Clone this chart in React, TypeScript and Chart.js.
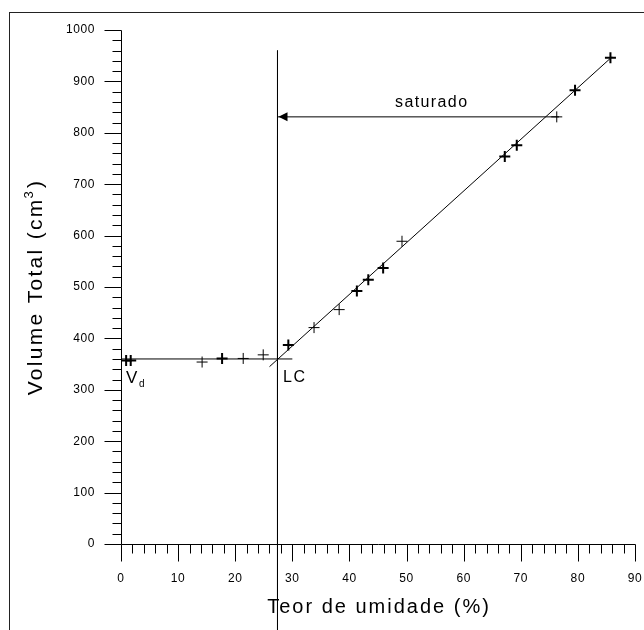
import { useEffect, useRef } from "react";
import { Chart, registerables } from "chart.js";

Chart.register(...registerables);

// ---- data ----
const moistureThin = [14.2, 21.4, 24.9, 33.8, 38.2, 49.2, 76.3];
const volumeThin = [354, 361, 368, 421, 456, 589, 831];
const moistureBold = [0.9, 1.7, 17.7, 29.3, 41.3, 43.3, 45.9, 67.2, 69.3, 79.5, 85.7];
const volumeBold = [357, 357, 361, 387, 492, 514, 537, 754, 776, 883, 946];

const vdX = [0, 30];
const vdY = [360, 360];
const lcX = [27.4, 27.4];
const lcY = [960, -170];
const regX = [26, 86];
const regY = [345, 948];
const arrowX = [27.4, 76.7];
const arrowY = [831, 831];

const xTicks = [0, 10, 20, 30, 40, 50, 60, 70, 80, 90];
const yTicks = [0, 100, 200, 300, 400, 500, 600, 700, 800, 900, 1000];

const FONT = '"Liberation Sans", Arial, sans-serif';

const pts = (xs: number[], ys: number[]) => xs.map((x, i) => ({ x, y: ys[i] }));

const lineDs = (xs: number[], ys: number[]) => ({
  data: pts(xs, ys),
  showLine: true,
  pointRadius: 0,
  borderColor: "#000",
  borderWidth: 1,
  clip: false as any,
});

const decor = {
  id: "decor",
  beforeDatasetsDraw(chart: any) {
    const { ctx } = chart;
    const xs = chart.scales.x;
    const ys = chart.scales.y;
    const px = (v: number) => Math.round(xs.getPixelForValue(v)) + 0.5;
    const py = (v: number) => Math.round(ys.getPixelForValue(v)) + 0.5;
    ctx.save();
    // frame
    ctx.strokeStyle = "#222";
    ctx.lineWidth = 1;
    ctx.strokeRect(9.5, 12.5, 700, 700);
    ctx.strokeStyle = "#000";
    // x axis
    const y0 = py(0);
    ctx.beginPath();
    ctx.moveTo(px(0), y0);
    ctx.lineTo(px(90), y0);
    for (let v = 0; v <= 90; v += 2) {
      const major = v % 10 === 0;
      ctx.moveTo(px(v), y0);
      ctx.lineTo(px(v), y0 + (major ? 17 : 9));
    }
    // y axis
    const x0 = px(0);
    ctx.moveTo(x0, py(0));
    ctx.lineTo(x0, py(1000));
    for (let v = 0; v <= 1000; v += 20) {
      const major = v % 100 === 0;
      ctx.moveTo(x0, py(v));
      ctx.lineTo(x0 - (major ? 17 : 9), py(v));
    }
    ctx.stroke();

    // tick labels
    ctx.fillStyle = "#000";
    ctx.font = `12px ${FONT}`;
    (ctx as any).letterSpacing = "0.6px";
    ctx.textBaseline = "middle";
    ctx.textAlign = "center";
    xTicks.forEach((v) => ctx.fillText(String(v), xs.getPixelForValue(v), 579));
    ctx.textAlign = "right";
    yTicks.forEach((v) => ctx.fillText(String(v), 95, ys.getPixelForValue(v)));

    // x title
    ctx.font = `20px ${FONT}`;
    (ctx as any).letterSpacing = "2px";
    ctx.textAlign = "center";
    ctx.textBaseline = "alphabetic";
    ctx.fillText("Teor de umidade (%)", (xs.left + xs.right) / 2 + 1, 613);

    // y title
    ctx.save();
    ctx.translate(42, (ys.top + ys.bottom) / 2);
    ctx.rotate(-Math.PI / 2);
    ctx.textAlign = "left";
    (ctx as any).letterSpacing = "2.3px";
    const main = "Volume Total (cm";
    ctx.font = `21px ${FONT}`;
    const w1 = ctx.measureText(main).width;
    ctx.font = `13px ${FONT}`;
    const w2 = ctx.measureText("3").width;
    ctx.font = `21px ${FONT}`;
    const w3 = ctx.measureText(")").width;
    let sx = -(w1 + w2 + w3) / 2;
    ctx.fillText(main, sx, 0);
    sx += w1;
    ctx.font = `13px ${FONT}`;
    ctx.fillText("3", sx - 1, -9);
    sx += w2;
    ctx.font = `21px ${FONT}`;
    ctx.fillText(")", sx, 0);
    ctx.restore();

    ctx.restore();
  },
  afterDatasetsDraw(chart: any) {
    const { ctx } = chart;
    const xs = chart.scales.x;
    const ys = chart.scales.y;
    ctx.save();
    ctx.fillStyle = "#000";
    // arrowhead at left end of saturado arrow
    const tx = xs.getPixelForValue(arrowX[0]);
    const ty = ys.getPixelForValue(arrowY[0]);
    ctx.beginPath();
    ctx.moveTo(tx + 1, ty);
    ctx.lineTo(tx + 10, ty - 4.5);
    ctx.lineTo(tx + 10, ty + 4.5);
    ctx.closePath();
    ctx.fill();

    ctx.textBaseline = "alphabetic";
    ctx.textAlign = "left";
    // saturado
    ctx.font = `16px ${FONT}`;
    (ctx as any).letterSpacing = "1.4px";
    ctx.fillText("saturado", 395, 107);
    // LC
    ctx.font = `16px ${FONT}`;
    (ctx as any).letterSpacing = "1.5px";
    ctx.fillText("LC", 283, 382);
    // V_d
    (ctx as any).letterSpacing = "0px";
    ctx.font = `17px ${FONT}`;
    ctx.fillText("V", 126, 383);
    ctx.font = `10px ${FONT}`;
    ctx.fillText("d", 139, 387);
    ctx.restore();
  },
};

export default function App() {
  const ref = useRef<HTMLCanvasElement>(null);
  useEffect(() => {
    document.body.style.margin = "0";
    const canvas = ref.current!;
    const chart = new Chart(canvas, {
      type: "scatter",
      data: {
        datasets: [
          lineDs(vdX, vdY) as any,
          lineDs(lcX, lcY) as any,
          lineDs(regX, regY) as any,
          lineDs(arrowX, arrowY) as any,
          {
            data: pts(moistureThin, volumeThin),
            pointStyle: "cross",
            pointRadius: 5.5,
            borderColor: "#000",
            pointBorderWidth: 1,
            showLine: false,
          } as any,
          {
            data: pts(moistureBold, volumeBold),
            pointStyle: "cross",
            pointRadius: 5.5,
            borderColor: "#000",
            pointBorderWidth: 2,
            showLine: false,
          } as any,
        ],
      },
      options: {
        responsive: false,
        animation: false,
        devicePixelRatio: 1,
        events: [],
        layout: { padding: { left: 121, right: 9, top: 30, bottom: 86 } },
        plugins: { legend: { display: false }, tooltip: { enabled: false } },
        scales: {
          x: { type: "linear", min: 0, max: 90, display: false },
          y: { type: "linear", min: 0, max: 1000, display: false },
        },
      },
      plugins: [decor],
    });
    return () => chart.destroy();
  }, []);
  return (
    <canvas
      ref={ref}
      width={644}
      height={630}
      style={{ display: "block", width: 644, height: 630 }}
    />
  );
}
